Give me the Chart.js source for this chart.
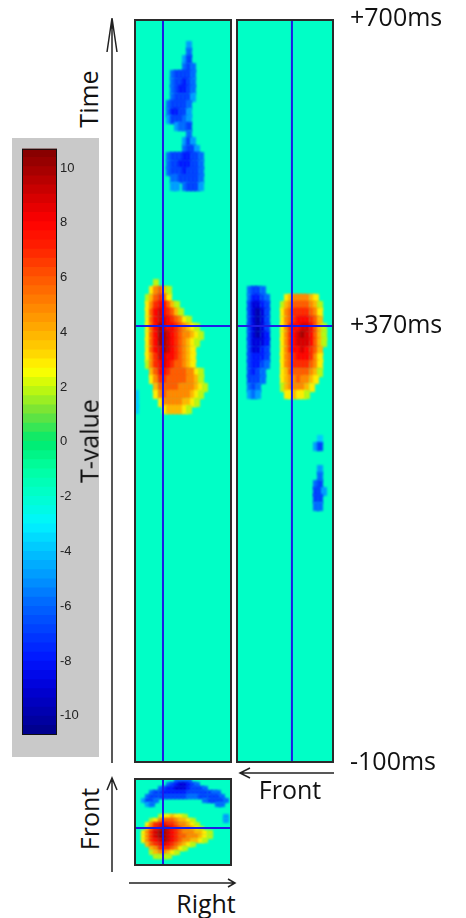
<!DOCTYPE html>
<html>
<head>
<meta charset="utf-8">
<title>T-value maps</title>
<script src="https://cdn.jsdelivr.net/npm/chart.js@4.4.1/dist/chart.umd.min.js"></script>
<style>
  body { margin: 0; width: 466px; height: 918px; position: relative; overflow: hidden; background: #fff;
         font-family: 'Open Sans', sans-serif; color: #111; }
  .box { position: absolute; }
  .lbl { position: absolute; font-size: 25px; line-height: 1; white-space: nowrap; transform: translate(-50%, -50%); }
  .lbl.rot { transform: translate(-50%, -50%) rotate(-90deg); }
  svg { position: absolute; left: 0; top: 0; pointer-events: none; }
</style>
</head>
<body>
<div class="box" style="left:12px;top:138px;width:87px;height:619px;background:#c9c9c9"><canvas id="cbar"></canvas></div>
<div class="box" style="left:134px;top:19px;width:98px;height:744px"><canvas id="sag"></canvas></div>
<div class="box" style="left:236px;top:0;width:230px;height:781px"><canvas id="cor"></canvas></div>
<div class="box" style="left:134px;top:778px;width:98px;height:88px"><canvas id="axi"></canvas></div>

<div class="lbl rot" style="left:88px;top:99px">Time</div>
<div class="lbl rot" style="left:89px;top:441px">T-value</div>
<div class="lbl rot" style="left:89px;top:819px">Front</div>
<div class="lbl" style="left:290px;top:789px">Front</div>
<div class="lbl" style="left:206px;top:903px">Right</div>

<svg width="466" height="918">
  <g stroke="#222" stroke-width="1.5" fill="none">
    <path d="M112 763V18M107 52L112 18L117 52"/>
    <path d="M112 872V778M107 790L112 778L117 790"/>
    <path d="M334 773H240M250 768L240 773L250 778"/>
    <path d="M129 883H235M228 879L235 883L228 887"/>
  </g>
</svg>

<script>
// colour scale
const cmapT = [-10.7, -10, -9, -8, -7, -6, -5, -4, -3, -2, -1, 0, 1, 2, 2.6, 3, 4, 5, 6, 7, 8, 9, 10, 10.7];
const cmapR = [0, 0, 0, 0, 0, 0, 0, 0, 0, 0, 0, 0, 110, 200, 255, 255, 255, 255, 255, 255, 255, 210, 160, 130];
const cmapG = [0, 0, 0, 20, 60, 100, 150, 195, 245, 255, 255, 235, 225, 250, 255, 225, 175, 130, 85, 35, 0, 0, 0, 0];
const cmapB = [135, 170, 215, 255, 255, 255, 255, 255, 255, 205, 160, 110, 60, 10, 0, 0, 0, 0, 0, 0, 0, 0, 0, 0];
const cbarMin = -10.7, cbarMax = 10.7, cbarLevels = 64;
const cbarTicks = [-10, -8, -6, -4, -2, 0, 2, 4, 6, 8, 10];
const bgT = -2;

// time axis
const timeMin = -100, timeMax = 700, timeStep = 8;
const timeTicks = [-100, 370, 700];
const crossTime = 370;

// cells: one string per row, top row first. '.' = background
// 1-9 and X(=10) positive t, a..j = -1..-10
const sagTop = 676;
const sagRows = [
  ".............e..........",
  ".............f..........",
  "............eg..........",
  "............fgf.........",
  ".........fggggf.........",
  ".........fgghgf.........",
  ".........fghhgf.........",
  ".........fgggge.........",
  "........fggggf..........",
  "........fhhgge..........",
  "........egggfe..........",
  "..........effg..........",
  ".............f..........",
  "............ege.........",
  "............fgge........",
  "........fggghhggf.......",
  "........fgghhhggf.......",
  "........fggghgggf.......",
  ".........ffgggggf.......",
  ".........ee.fggge.......",
  "", "", "", "", "", "", "", "", "", "", "", "",
  ".....2..................",
  "....35642...............",
  "...246763...............",
  "...35788642.............",
  "...368987642............",
  "...36899876532..........",
  "...368X988765432........",
  "...368XX987655432.......",
  "...368XX98765432........",
  "...3689X9876543.........",
  "...357998876543.........",
  "...257898766543.........",
  "....4688766665532.......",
  "....3577666665542.......",
  ".....4666665555432......",
  "d....356555555432.......",
  "d.....3555554432........",
  "d......3444432.........."
];
const sagCross = 7.1;

const corTop = 412;
const corRows = [
  "...fggf.................",
  "...fhhgf....34555543....",
  "...giihg...2456666542...",
  "...gijig...3567777653...",
  "...gijig...3567888764...",
  "...gijig...35788998642..",
  "...gijih...35789X98642..",
  "...giiih...35789998642..",
  "...giihg...3578898764...",
  "...ghhhg...3567888753...",
  "...ghhgf...3567777653...",
  "...ghgf....3466666542...",
  "...gggf....345565543....",
  "...fgf.....24555543.....",
  "...efe......334332......",
  "", "", "", "", "",
  "....................d...",
  "...................eg...",
  "", "",
  "....................e...",
  "....................f...",
  "...................fg...",
  "...................gge..",
  "...................gg...",
  "...................ff..."
];
const corCross = 13.7;

const axiTop = 22;
const axiRows = [
  "..........ffff..........",
  "........fghiihgf........",
  "......fghhiiihgggf......",
  "....fgghhhhhhggggggff...",
  "...fgggggggggfffgggggf..",
  "..eggf...........fggggf.",
  "...ef...............ff..",
  "", "",
  "......2334332.........e.",
  "....23566654432.......e.",
  "...3578877655432........",
  "...4689X987655432.......",
  "..3579XX98765554432.....",
  "..3579XX98766555432.....",
  "..35789X9876554432......",
  "...467898765432.........",
  "....457776532...........",
  "....2455432.............",
  ".....2222..............."
];
const axiCrossX = 7.1, axiCrossY = 9.5;

const nCols = 24;
const lineBlue = 'rgb(28,28,230)';

Chart.defaults.font.family = "'Open Sans', sans-serif";
Chart.defaults.animation = false;
Chart.defaults.events = [];
Chart.defaults.plugins.legend.display = false;
Chart.defaults.plugins.tooltip.enabled = false;

function colorAt(t) {
  let i = Math.floor((t - cbarMin) / (cbarMax - cbarMin) * cbarLevels);
  i = Math.max(0, Math.min(cbarLevels - 1, i));
  const tq = cbarMin + (i + 0.5) * (cbarMax - cbarMin) / cbarLevels;
  let k = 0;
  while (k < cmapT.length - 2 && tq > cmapT[k + 1]) k++;
  const f = Math.max(0, Math.min(1, (tq - cmapT[k]) / (cmapT[k + 1] - cmapT[k])));
  const mix = a => Math.round(a[k] + (a[k + 1] - a[k]) * f);
  return 'rgb(' + mix(cmapR) + ',' + mix(cmapG) + ',' + mix(cmapB) + ')';
}

function tval(ch) {
  if (ch === 'X') return 10;
  if (ch >= '1' && ch <= '9') return +ch;
  return 96 - ch.charCodeAt(0);
}

function gridCells(rows, top, step) {
  const pts = [];
  rows.forEach((row, r) => {
    [...row].forEach((ch, c) => {
      if (ch !== '.') pts.push({ x: c + 0.5, y: top - (r + 0.5) * step, v: tval(ch) });
    });
  });
  return pts;
}

const cellCache = {};
function cellStyle(ctx, step) {
  if (!ctx.raw) return 'rect';
  const { x, y } = ctx.chart.scales;
  const w = Math.abs(x.getPixelForValue(1) - x.getPixelForValue(0));
  const h = Math.abs(y.getPixelForValue(step) - y.getPixelForValue(0));
  const col = colorAt(ctx.raw.v);
  const key = col + '|' + w.toFixed(2) + '|' + h.toFixed(2);
  if (!cellCache[key]) {
    const c = document.createElement('canvas');
    c.width = Math.ceil(w) + 1;
    c.height = Math.ceil(h) + 1;
    const g = c.getContext('2d');
    g.fillStyle = col;
    g.fillRect(0, 0, c.width, c.height);
    cellCache[key] = c;
  }
  return cellCache[key];
}

const frame = (color, width) => ({
  id: 'frame',
  afterDraw(chart) {
    const { ctx, chartArea: a } = chart;
    ctx.save();
    ctx.strokeStyle = color;
    ctx.lineWidth = width;
    ctx.strokeRect(a.left + width / 2, a.top + width / 2, a.width - width, a.height - width);
    ctx.restore();
  }
});

// background + slight softening of the cell edges
const bgFill = {
  id: 'bgFill',
  beforeDatasetsDraw(chart) {
    const { ctx, chartArea: a } = chart;
    ctx.save();
    ctx.fillStyle = colorAt(bgT);
    ctx.fillRect(a.left, a.top, a.width, a.height);
    ctx.restore();
  },
  beforeDatasetDraw(chart, args) {
    if (args.index === 0) { chart.ctx.save(); chart.ctx.filter = 'blur(1.2px)'; }
  },
  afterDatasetDraw(chart, args) {
    if (args.index === 0) chart.ctx.restore();
  }
};

function crossLine(p1, p2) {
  return { type: 'line', data: [p1, p2], borderColor: lineBlue, borderWidth: 2,
           pointRadius: 0, showLine: true, order: 0 };
}

function panel(id, rows, top, step, yMin, yMax, cx, cy, yAxis, padding) {
  return new Chart(document.getElementById(id), {
    type: 'scatter',
    data: {
      datasets: [
        { data: gridCells(rows, top, step), pointRadius: 2, order: 1,
          pointStyle: ctx => cellStyle(ctx, step) },
        crossLine({ x: cx, y: yMin }, { x: cx, y: yMax }),
        crossLine({ x: 0, y: cy }, { x: nCols, y: cy })
      ]
    },
    options: {
      responsive: true,
      maintainAspectRatio: false,
      layout: { autoPadding: false, padding: padding || 0 },
      scales: {
        x: { type: 'linear', min: 0, max: nCols, display: false },
        y: Object.assign({ type: 'linear', min: yMin, max: yMax, display: false }, yAxis || {})
      }
    },
    plugins: [bgFill, frame('#2b2b2b', 2)]
  });
}

panel('sag', sagRows, sagTop, timeStep, timeMin, timeMax, sagCross, crossTime);
panel('cor', corRows, corTop, timeStep, timeMin, timeMax, corCross, crossTime, {
  display: true,
  position: 'right',
  afterBuildTicks: s => { s.ticks = timeTicks.map(v => ({ value: v })); },
  afterFit: s => { s.width = 132; s.paddingTop = 0; s.paddingBottom = 0; },
  ticks: { padding: 16, color: '#111', font: { size: 25 },
           callback: v => (v > 0 ? '+' : '') + v + 'ms' },
  grid: { display: false, drawTicks: false },
  border: { display: false }
}, { top: 19, bottom: 18, left: 0, right: 0 });
panel('axi', axiRows, axiTop, 1, 0, axiTop, axiCrossX, axiCrossY);

// colour bar
const cbarSets = [];
const cbarStep = (cbarMax - cbarMin) / cbarLevels;
for (let i = 0; i < cbarLevels; i++) {
  const lo = cbarMin + i * cbarStep;
  cbarSets.push({
    data: [[lo, lo + cbarStep + 0.02]],
    backgroundColor: colorAt(lo + cbarStep / 2),
    borderWidth: 0,
    grouped: false,
    barPercentage: 1,
    categoryPercentage: 1
  });
}

new Chart(document.getElementById('cbar'), {
  type: 'bar',
  data: { labels: [''], datasets: cbarSets },
  options: {
    responsive: true,
    maintainAspectRatio: false,
    layout: { autoPadding: false, padding: { left: 10, top: 10, bottom: 22, right: 0 } },
    scales: {
      x: { display: false },
      y: {
        position: 'right',
        min: cbarMin,
        max: cbarMax,
        z: 1,
        afterBuildTicks: s => { s.ticks = cbarTicks.map(v => ({ value: v })); },
        afterFit: s => { s.width = 42; },
        ticks: { padding: 3, color: '#222', font: { family: "'Liberation Sans', Arial, sans-serif", size: 13 } },
        grid: { color: '#111', lineWidth: 1, drawTicks: false },
        border: { display: false, dash: [7, 21] }
      }
    }
  },
  plugins: [frame('#111', 1)]
});
</script>
</body>
</html>
